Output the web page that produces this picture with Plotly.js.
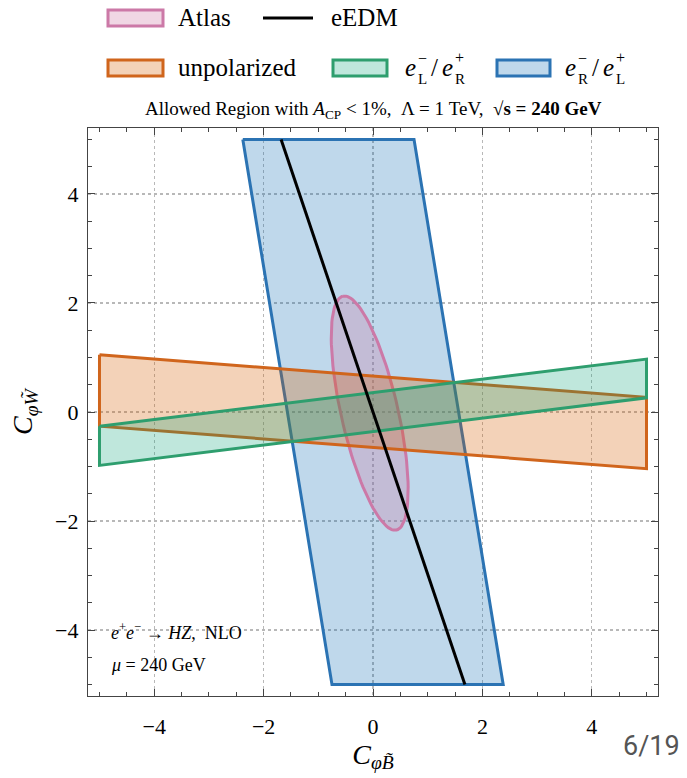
<!DOCTYPE html>
<html>
<head>
<meta charset="utf-8">
<script src="https://cdn.plot.ly/plotly-3.0.1.min.js"></script>
<style>html,body{margin:0;padding:0;background:#fff;}#chart{width:687px;height:778px;}</style>
</head>
<body>
<div id="chart"></div>
<script>
// ---- data ----
const tickVals = [-4, -2, 0, 2, 4];
const tickText = ['\u22124', '\u22122', '0', '2', '4'];
const unpolX = [-5, 5, 5, -5];
const unpolY = [1.05, 0.27, -1.04, -0.26];
const eLeRX = [-5, 5, 5, -5];
const eLeRY = [-0.26, 0.97, 0.26, -0.98];
const eReLX = [-2.38, 0.75, 2.38, -0.75];
const eReLY = [5, 5, -5, -5];
const eedmX = [-1.68, 1.68];
const eedmY = [5, -5];
const atlasCenter = [-0.06, -0.02];
const atlasSemiAxes = [2.2, 0.52];   // major, minor
const atlasTiltDeg = [12.8];         // major axis tilted left of vertical

// ---- geometry helpers ----
function closed(a){ return a.concat([a[0]]); }
function ellipse(c, ax, tilt){
  const th = tilt * Math.PI / 180, s = Math.sin(th), co = Math.cos(th);
  const xs = [], ys = [];
  for (let i = 0; i <= 120; i++){
    const t = 2 * Math.PI * i / 120;
    const u = ax[0] * Math.cos(t), v = ax[1] * Math.sin(t);
    xs.push(c[0] - s * u + co * v);
    ys.push(c[1] + co * u + s * v);
  }
  return [xs, ys];
}
const col = {blue:'#2b73b3', pink:'#cc79a7', orange:'#d0651c', green:'#2e9e6e'};
const fillc = {blue:'rgba(0,100,175,0.25)', pink:'rgba(204,121,167,0.3)', orange:'rgba(213,94,0,0.28)', green:'rgba(0,158,115,0.25)'};
const el = ellipse(atlasCenter, atlasSemiAxes, atlasTiltDeg[0]);

const traces = [
  {x: closed(eReLX), y: closed(eReLY), type:'scatter', mode:'lines', fill:'toself', fillcolor:fillc.blue, line:{color:col.blue, width:3}, showlegend:false, hoverinfo:'skip'},
  {x: el[0], y: el[1], type:'scatter', mode:'lines', fill:'toself', fillcolor:fillc.pink, line:{color:col.pink, width:3}, showlegend:false, hoverinfo:'skip'},
  {x: closed(unpolX), y: closed(unpolY), type:'scatter', mode:'lines', fill:'toself', fillcolor:fillc.orange, line:{color:col.orange, width:3}, showlegend:false, hoverinfo:'skip'},
  {x: closed(eLeRX), y: closed(eLeRY), type:'scatter', mode:'lines', fill:'toself', fillcolor:fillc.green, line:{color:col.green, width:3}, showlegend:false, hoverinfo:'skip'},
  {x: eedmX, y: eedmY, type:'scatter', mode:'lines', line:{color:'#000', width:3}, showlegend:false, hoverinfo:'skip'}
];

// ---- pixel -> paper helpers for legend/decorations ----
const L = 88, R = 658, T = 128, B = 696;
const px = x => (x - L) / (R - L);
const py = y => (B - y) / (B - T);
const serif = 'Liberation Serif, DejaVu Serif, serif';

const shapes = [];
const ann = [];
function patch(x0, x1, yc, key){
  shapes.push({type:'rect', xref:'paper', yref:'paper', x0:px(x0), x1:px(x1), y0:py(yc+8), y1:py(yc-8),
    line:{color:col[key], width:3}, fillcolor:fillc[key]});
}
function txt(x, y, t, size, extra){
  ann.push(Object.assign({xref:'paper', yref:'paper', x:px(x), y:py(y), text:t, showarrow:false,
    xanchor:'left', yanchor:'middle', font:{family:serif, size:size, color:'#000'}}, extra||{}));
}
// row 1
patch(108, 163, 18, 'pink');
txt(176, 17, 'Atlas', 25);
shapes.push({type:'line', xref:'paper', yref:'paper', x0:px(263), x1:px(313), y0:py(18), y1:py(18), line:{color:'#000', width:3}});
txt(329, 17, 'eEDM', 25);
// row 2
patch(108, 163, 68, 'orange');
txt(176, 67, 'unpolarized', 25);
patch(333, 387, 68, 'green');
txt(403, 67, '<i>e</i>', 25);
txt(416, 58, '\u2212', 16);
txt(416, 79, 'L', 15);
txt(429, 67, '/', 25);
txt(440, 67, '<i>e</i>', 25);
txt(453, 57, '+', 16);
txt(453, 79, 'R', 15);
patch(497, 550, 68, 'blue');
txt(563, 67, '<i>e</i>', 25);
txt(576, 58, '\u2212', 16);
txt(576, 79, 'R', 15);
txt(590, 67, '/', 25);
txt(601, 67, '<i>e</i>', 25);
txt(614, 57, '+', 16);
txt(614, 79, 'L', 15);
// title
ann.push({xref:'paper', yref:'paper', x:0.5, y:py(110), xanchor:'center', yanchor:'middle', showarrow:false,
  text:'Allowed Region with <i>A</i><sub>CP</sub> &lt; 1%,  \u039B = 1 TeV,  <b>\u221As = 240 GeV</b>',
  font:{family:serif, size:19, color:'#000'}});
// in-plot notes
txt(109, 631, '<i>e</i><sup>+</sup><i>e</i><sup>\u2212</sup> \u2192 <i>HZ</i>,  NLO', 18);
txt(109, 665, '<i>\u03BC</i> = 240 GeV', 18);
// page number overlay
ann.push({xref:'paper', yref:'paper', x:px(682), y:py(746), xanchor:'right', yanchor:'middle', showarrow:false,
  text:'6/19', font:{family:'Roboto, DejaVu Sans, sans-serif', size:27, color:'#555'}});

const axisCommon = {
  range:[-5.21, 5.21], tickvals:tickVals, ticktext:tickText, ticks:'inside', ticklen:7, tickwidth:1, tickcolor:'#444',
  mirror:'allticks', showline:true, linecolor:'#444', linewidth:1.2, zeroline:false,
  showgrid:true, gridcolor:'#b8b8b8', griddash:'dot', gridwidth:1.2,
  minor:{dtick:0.5, tick0:0, ticks:'inside', ticklen:4, tickcolor:'#444', showgrid:false},
  tickfont:{family:serif, size:22, color:'#000'}, fixedrange:true
};
const layout = {
  width:687, height:778, margin:{l:L, r:687-R, t:T, b:778-B},
  paper_bgcolor:'#fff', plot_bgcolor:'#fff', showlegend:false,
  xaxis: Object.assign({}, axisCommon, {ticklabelstandoff:10,
    title:{text:'<i>C</i><sub><i>\u03C6B\u0303</i></sub>', font:{family:serif, size:28, color:'#000'}, standoff:2}}),
  yaxis: Object.assign({}, axisCommon, {ticklabelstandoff:4,
    title:{text:'<i>C</i><sub><i>\u03C6W\u0303</i></sub>', font:{family:serif, size:28, color:'#000'}, standoff:14}}),
  shapes: shapes, annotations: ann
};
Plotly.newPlot('chart', traces, layout, {displayModeBar:false, staticPlot:true});
</script>
</body>
</html>
